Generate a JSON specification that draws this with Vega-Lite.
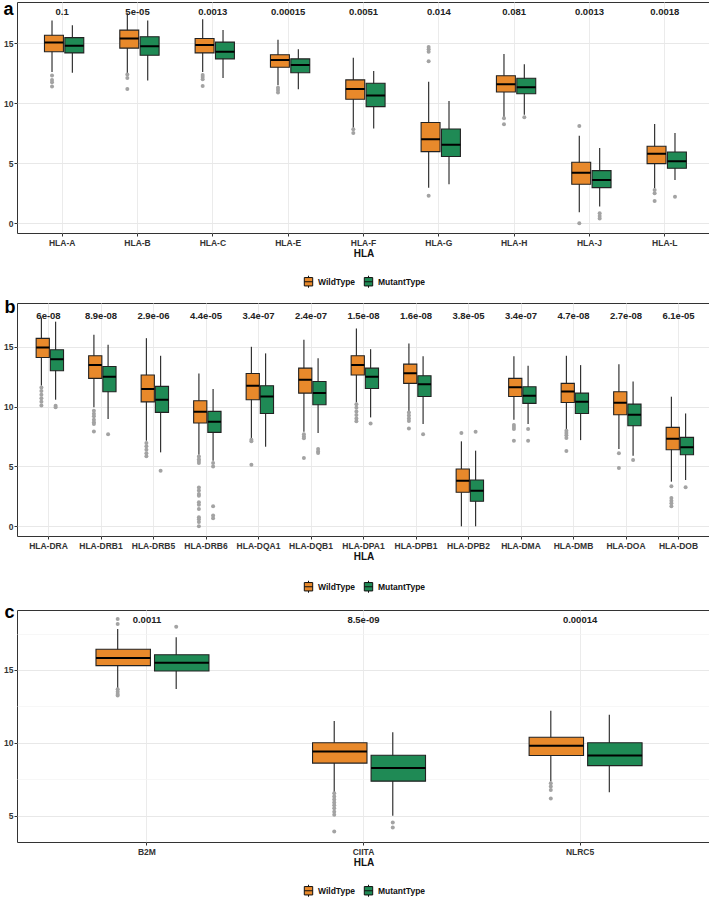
{
  "$schema": "https://vega.github.io/schema/vega-lite/v6.json",
  "padding": {"left": 2, "top": 0, "right": 0, "bottom": 0},
  "autosize": {"type": "pad"},
  "config": {
    "view": {"stroke": "#333333", "strokeWidth": 1},
    "font": "Liberation Sans",
    "concat": {"spacing": 6},
    "axis": {
      "labelFont": "Liberation Sans", "labelFontWeight": "bold", "labelFontSize": 8.5, "labelColor": "#333333",
      "tickColor": "#333333", "tickSize": 3, "domain": false, "labelPadding": 2,
      "titleFont": "Liberation Sans", "titleFontWeight": "bold", "titleFontSize": 10, "titleColor": "#111111"
    },
    "axisY": {"minExtent": 0, "labelPadding": 1},
    "legend": {
      "orient": "bottom", "direction": "horizontal", "offset": 16,
      "layout": {"bottom": {"anchor": "middle"}},
      "labelFont": "Liberation Sans", "labelFontWeight": "bold", "labelFontSize": 8.5, "labelColor": "#111111",
      "symbolType": "M-0.7,-0.7H0.7V0.7H-0.7Z M-0.7,0H0.7 M0,-0.7V-1 M0,0.7V1",
      "symbolSize": 144, "symbolStrokeColor": "#111111", "symbolStrokeWidth": 1, "symbolOpacity": 1,
      "labelOffset": 3, "columnPadding": 6
    }
  },
  "datasets": {
    "box_a": [
      {"gene": "HLA-A", "group": "WildType", "lower": 12.6, "q1": 14.3, "median": 15.06, "q3": 15.67, "upper": 16.9},
      {"gene": "HLA-A", "group": "MutantType", "lower": 12.55, "q1": 14.2, "median": 14.8, "q3": 15.47, "upper": 16.5},
      {"gene": "HLA-B", "group": "WildType", "lower": 12.5, "q1": 14.6, "median": 15.4, "q3": 16.1, "upper": 17.5},
      {"gene": "HLA-B", "group": "MutantType", "lower": 11.9, "q1": 14.0, "median": 14.75, "q3": 15.55, "upper": 16.9},
      {"gene": "HLA-C", "group": "WildType", "lower": 12.6, "q1": 14.2, "median": 14.86, "q3": 15.4, "upper": 17.0},
      {"gene": "HLA-C", "group": "MutantType", "lower": 12.1, "q1": 13.7, "median": 14.3, "q3": 15.1, "upper": 16.1},
      {"gene": "HLA-E", "group": "WildType", "lower": 11.5, "q1": 13.0, "median": 13.6, "q3": 14.05, "upper": 15.3},
      {"gene": "HLA-E", "group": "MutantType", "lower": 11.17, "q1": 12.55, "median": 13.2, "q3": 13.7, "upper": 14.5},
      {"gene": "HLA-F", "group": "WildType", "lower": 7.97, "q1": 10.33, "median": 11.2, "q3": 11.95, "upper": 13.8},
      {"gene": "HLA-F", "group": "MutantType", "lower": 7.9, "q1": 9.72, "median": 10.64, "q3": 11.67, "upper": 12.7},
      {"gene": "HLA-G", "group": "WildType", "lower": 2.97, "q1": 5.97, "median": 7.0, "q3": 8.4, "upper": 11.8},
      {"gene": "HLA-G", "group": "MutantType", "lower": 3.25, "q1": 5.56, "median": 6.55, "q3": 7.86, "upper": 10.2},
      {"gene": "HLA-H", "group": "WildType", "lower": 8.83, "q1": 10.94, "median": 11.58, "q3": 12.3, "upper": 14.1},
      {"gene": "HLA-H", "group": "MutantType", "lower": 9.05, "q1": 10.8, "median": 11.33, "q3": 12.08, "upper": 13.25},
      {"gene": "HLA-J", "group": "WildType", "lower": 0.92, "q1": 3.25, "median": 4.22, "q3": 5.08, "upper": 7.3},
      {"gene": "HLA-J", "group": "MutantType", "lower": 1.39, "q1": 2.97, "median": 3.6, "q3": 4.39, "upper": 6.28},
      {"gene": "HLA-L", "group": "WildType", "lower": 2.92, "q1": 4.97, "median": 5.8, "q3": 6.42, "upper": 8.28},
      {"gene": "HLA-L", "group": "MutantType", "lower": 3.6, "q1": 4.58, "median": 5.17, "q3": 5.94, "upper": 7.53}
    ],
    "out_a": [
      {"gene": "HLA-A", "group": "WildType", "value": 12.31}, {"gene": "HLA-A", "group": "WildType", "value": 11.94},
      {"gene": "HLA-A", "group": "WildType", "value": 11.75}, {"gene": "HLA-A", "group": "WildType", "value": 11.39},
      {"gene": "HLA-B", "group": "WildType", "value": 12.4}, {"gene": "HLA-B", "group": "WildType", "value": 12.1},
      {"gene": "HLA-B", "group": "WildType", "value": 11.2},
      {"gene": "HLA-C", "group": "WildType", "value": 12.35}, {"gene": "HLA-C", "group": "WildType", "value": 12.2},
      {"gene": "HLA-C", "group": "WildType", "value": 12.0}, {"gene": "HLA-C", "group": "WildType", "value": 11.45},
      {"gene": "HLA-E", "group": "WildType", "value": 11.3}, {"gene": "HLA-E", "group": "WildType", "value": 11.1},
      {"gene": "HLA-E", "group": "WildType", "value": 10.9},
      {"gene": "HLA-F", "group": "WildType", "value": 7.83}, {"gene": "HLA-F", "group": "WildType", "value": 7.53},
      {"gene": "HLA-G", "group": "WildType", "value": 14.7}, {"gene": "HLA-G", "group": "WildType", "value": 14.5},
      {"gene": "HLA-G", "group": "WildType", "value": 14.3}, {"gene": "HLA-G", "group": "WildType", "value": 13.5},
      {"gene": "HLA-G", "group": "WildType", "value": 2.3},
      {"gene": "HLA-H", "group": "WildType", "value": 8.75}, {"gene": "HLA-H", "group": "WildType", "value": 8.25},
      {"gene": "HLA-H", "group": "MutantType", "value": 8.83},
      {"gene": "HLA-J", "group": "WildType", "value": 8.1}, {"gene": "HLA-J", "group": "WildType", "value": 0.0},
      {"gene": "HLA-J", "group": "MutantType", "value": 0.83}, {"gene": "HLA-J", "group": "MutantType", "value": 0.61},
      {"gene": "HLA-J", "group": "MutantType", "value": 0.39},
      {"gene": "HLA-L", "group": "WildType", "value": 2.78}, {"gene": "HLA-L", "group": "WildType", "value": 2.5},
      {"gene": "HLA-L", "group": "WildType", "value": 1.86},
      {"gene": "HLA-L", "group": "MutantType", "value": 2.22}
    ],
    "p_a": [
      {"gene": "HLA-A", "p": "0.1"}, {"gene": "HLA-B", "p": "5e-05"}, {"gene": "HLA-C", "p": "0.0013"},
      {"gene": "HLA-E", "p": "0.00015"}, {"gene": "HLA-F", "p": "0.0051"}, {"gene": "HLA-G", "p": "0.014"},
      {"gene": "HLA-H", "p": "0.081"}, {"gene": "HLA-J", "p": "0.0013"}, {"gene": "HLA-L", "p": "0.0018"}
    ],
    "box_b": [
      {"gene": "HLA-DRA", "group": "WildType", "lower": 11.75, "q1": 14.1, "median": 14.95, "q3": 15.7, "upper": 17.45},
      {"gene": "HLA-DRA", "group": "MutantType", "lower": 10.58, "q1": 13.0, "median": 13.97, "q3": 14.75, "upper": 17.1},
      {"gene": "HLA-DRB1", "group": "WildType", "lower": 9.94, "q1": 12.36, "median": 13.47, "q3": 14.25, "upper": 16.0},
      {"gene": "HLA-DRB1", "group": "MutantType", "lower": 8.96, "q1": 11.24, "median": 12.5, "q3": 13.36, "upper": 15.17},
      {"gene": "HLA-DRB5", "group": "WildType", "lower": 7.15, "q1": 10.4, "median": 11.47, "q3": 12.64, "upper": 15.72},
      {"gene": "HLA-DRB5", "group": "MutantType", "lower": 6.18, "q1": 9.52, "median": 10.58, "q3": 11.69, "upper": 14.25},
      {"gene": "HLA-DRB6", "group": "WildType", "lower": 5.98, "q1": 8.63, "median": 9.57, "q3": 10.49, "upper": 12.77},
      {"gene": "HLA-DRB6", "group": "MutantType", "lower": 5.48, "q1": 7.85, "median": 8.74, "q3": 9.6, "upper": 11.47},
      {"gene": "HLA-DQA1", "group": "WildType", "lower": 7.3, "q1": 10.58, "median": 11.75, "q3": 12.77, "upper": 15.0},
      {"gene": "HLA-DQA1", "group": "MutantType", "lower": 6.65, "q1": 9.43, "median": 10.85, "q3": 11.75, "upper": 14.45},
      {"gene": "HLA-DQB1", "group": "WildType", "lower": 7.9, "q1": 11.13, "median": 12.25, "q3": 13.22, "upper": 15.58},
      {"gene": "HLA-DQB1", "group": "MutantType", "lower": 7.8, "q1": 10.16, "median": 11.13, "q3": 12.1, "upper": 14.05},
      {"gene": "HLA-DPA1", "group": "WildType", "lower": 10.35, "q1": 12.64, "median": 13.47, "q3": 14.25, "upper": 16.53},
      {"gene": "HLA-DPA1", "group": "MutantType", "lower": 9.1, "q1": 11.52, "median": 12.5, "q3": 13.22, "upper": 14.8},
      {"gene": "HLA-DPB1", "group": "WildType", "lower": 9.6, "q1": 11.94, "median": 12.8, "q3": 13.55, "upper": 15.28},
      {"gene": "HLA-DPB1", "group": "MutantType", "lower": 8.54, "q1": 10.85, "median": 11.88, "q3": 12.58, "upper": 14.2},
      {"gene": "HLA-DPB2", "group": "WildType", "lower": 0.0, "q1": 2.84, "median": 3.81, "q3": 4.79, "upper": 7.1},
      {"gene": "HLA-DPB2", "group": "MutantType", "lower": 0.0, "q1": 2.09, "median": 2.98, "q3": 3.87, "upper": 6.32},
      {"gene": "HLA-DMA", "group": "WildType", "lower": 8.9, "q1": 10.85, "median": 11.63, "q3": 12.36, "upper": 14.2},
      {"gene": "HLA-DMA", "group": "MutantType", "lower": 8.54, "q1": 10.27, "median": 10.91, "q3": 11.66, "upper": 13.41},
      {"gene": "HLA-DMB", "group": "WildType", "lower": 8.13, "q1": 10.35, "median": 11.27, "q3": 11.94, "upper": 14.25},
      {"gene": "HLA-DMB", "group": "MutantType", "lower": 7.2, "q1": 9.43, "median": 10.41, "q3": 11.13, "upper": 13.47},
      {"gene": "HLA-DOA", "group": "WildType", "lower": 6.46, "q1": 9.32, "median": 10.33, "q3": 11.24, "upper": 13.55},
      {"gene": "HLA-DOA", "group": "MutantType", "lower": 5.9, "q1": 8.4, "median": 9.32, "q3": 10.21, "upper": 12.1},
      {"gene": "HLA-DOB", "group": "WildType", "lower": 3.73, "q1": 6.4, "median": 7.32, "q3": 8.27, "upper": 10.83},
      {"gene": "HLA-DOB", "group": "MutantType", "lower": 3.87, "q1": 5.98, "median": 6.6, "q3": 7.43, "upper": 9.43}
    ],
    "out_b": [
      {"gene": "HLA-DRA", "group": "WildType", "value": 11.6}, {"gene": "HLA-DRA", "group": "WildType", "value": 11.3},
      {"gene": "HLA-DRA", "group": "WildType", "value": 11.0}, {"gene": "HLA-DRA", "group": "WildType", "value": 10.7},
      {"gene": "HLA-DRA", "group": "WildType", "value": 10.4}, {"gene": "HLA-DRA", "group": "WildType", "value": 10.1},
      {"gene": "HLA-DRA", "group": "MutantType", "value": 10.07}, {"gene": "HLA-DRA", "group": "MutantType", "value": 9.94},
      {"gene": "HLA-DRB1", "group": "WildType", "value": 9.66}, {"gene": "HLA-DRB1", "group": "WildType", "value": 9.4},
      {"gene": "HLA-DRB1", "group": "WildType", "value": 9.2}, {"gene": "HLA-DRB1", "group": "WildType", "value": 8.9},
      {"gene": "HLA-DRB1", "group": "WildType", "value": 8.7}, {"gene": "HLA-DRB1", "group": "WildType", "value": 8.54},
      {"gene": "HLA-DRB1", "group": "WildType", "value": 7.93},
      {"gene": "HLA-DRB1", "group": "MutantType", "value": 7.7},
      {"gene": "HLA-DRB5", "group": "WildType", "value": 6.96}, {"gene": "HLA-DRB5", "group": "WildType", "value": 6.7},
      {"gene": "HLA-DRB5", "group": "WildType", "value": 6.4}, {"gene": "HLA-DRB5", "group": "WildType", "value": 6.1},
      {"gene": "HLA-DRB5", "group": "WildType", "value": 5.85},
      {"gene": "HLA-DRB5", "group": "MutantType", "value": 4.65},
      {"gene": "HLA-DRB6", "group": "WildType", "value": 5.84}, {"gene": "HLA-DRB6", "group": "WildType", "value": 5.6},
      {"gene": "HLA-DRB6", "group": "WildType", "value": 5.45}, {"gene": "HLA-DRB6", "group": "WildType", "value": 5.29},
      {"gene": "HLA-DRB6", "group": "WildType", "value": 3.25}, {"gene": "HLA-DRB6", "group": "WildType", "value": 3.0},
      {"gene": "HLA-DRB6", "group": "WildType", "value": 2.7}, {"gene": "HLA-DRB6", "group": "WildType", "value": 2.56},
      {"gene": "HLA-DRB6", "group": "WildType", "value": 2.0}, {"gene": "HLA-DRB6", "group": "WildType", "value": 1.8},
      {"gene": "HLA-DRB6", "group": "WildType", "value": 1.45}, {"gene": "HLA-DRB6", "group": "WildType", "value": 0.75},
      {"gene": "HLA-DRB6", "group": "WildType", "value": 0.6}, {"gene": "HLA-DRB6", "group": "WildType", "value": 0.35},
      {"gene": "HLA-DRB6", "group": "WildType", "value": 0.0},
      {"gene": "HLA-DRB6", "group": "MutantType", "value": 5.29}, {"gene": "HLA-DRB6", "group": "MutantType", "value": 5.0},
      {"gene": "HLA-DRB6", "group": "MutantType", "value": 1.67}, {"gene": "HLA-DRB6", "group": "MutantType", "value": 0.9},
      {"gene": "HLA-DRB6", "group": "MutantType", "value": 0.67},
      {"gene": "HLA-DQA1", "group": "WildType", "value": 7.24}, {"gene": "HLA-DQA1", "group": "WildType", "value": 7.1},
      {"gene": "HLA-DQA1", "group": "WildType", "value": 5.15},
      {"gene": "HLA-DQB1", "group": "WildType", "value": 7.7}, {"gene": "HLA-DQB1", "group": "WildType", "value": 7.5},
      {"gene": "HLA-DQB1", "group": "WildType", "value": 7.35}, {"gene": "HLA-DQB1", "group": "WildType", "value": 5.7},
      {"gene": "HLA-DQB1", "group": "MutantType", "value": 6.46}, {"gene": "HLA-DQB1", "group": "MutantType", "value": 6.26},
      {"gene": "HLA-DQB1", "group": "MutantType", "value": 6.12},
      {"gene": "HLA-DPA1", "group": "WildType", "value": 10.2}, {"gene": "HLA-DPA1", "group": "WildType", "value": 9.9},
      {"gene": "HLA-DPA1", "group": "WildType", "value": 9.6}, {"gene": "HLA-DPA1", "group": "WildType", "value": 9.3},
      {"gene": "HLA-DPA1", "group": "WildType", "value": 9.0}, {"gene": "HLA-DPA1", "group": "WildType", "value": 8.77},
      {"gene": "HLA-DPA1", "group": "MutantType", "value": 8.6},
      {"gene": "HLA-DPB1", "group": "WildType", "value": 9.52}, {"gene": "HLA-DPB1", "group": "WildType", "value": 9.25},
      {"gene": "HLA-DPB1", "group": "WildType", "value": 9.0}, {"gene": "HLA-DPB1", "group": "WildType", "value": 8.8},
      {"gene": "HLA-DPB1", "group": "WildType", "value": 8.18},
      {"gene": "HLA-DPB1", "group": "MutantType", "value": 7.7},
      {"gene": "HLA-DPB2", "group": "WildType", "value": 7.8},
      {"gene": "HLA-DPB2", "group": "MutantType", "value": 7.9},
      {"gene": "HLA-DMA", "group": "WildType", "value": 8.46}, {"gene": "HLA-DMA", "group": "WildType", "value": 8.3},
      {"gene": "HLA-DMA", "group": "WildType", "value": 8.13}, {"gene": "HLA-DMA", "group": "WildType", "value": 7.15},
      {"gene": "HLA-DMA", "group": "MutantType", "value": 8.13}, {"gene": "HLA-DMA", "group": "MutantType", "value": 7.15},
      {"gene": "HLA-DMB", "group": "WildType", "value": 7.99}, {"gene": "HLA-DMB", "group": "WildType", "value": 7.8},
      {"gene": "HLA-DMB", "group": "WildType", "value": 7.6}, {"gene": "HLA-DMB", "group": "WildType", "value": 7.38},
      {"gene": "HLA-DMB", "group": "WildType", "value": 6.29},
      {"gene": "HLA-DOA", "group": "WildType", "value": 6.1}, {"gene": "HLA-DOA", "group": "WildType", "value": 4.87},
      {"gene": "HLA-DOA", "group": "MutantType", "value": 5.54},
      {"gene": "HLA-DOB", "group": "WildType", "value": 3.34}, {"gene": "HLA-DOB", "group": "WildType", "value": 2.37},
      {"gene": "HLA-DOB", "group": "WildType", "value": 2.14}, {"gene": "HLA-DOB", "group": "WildType", "value": 1.92},
      {"gene": "HLA-DOB", "group": "WildType", "value": 1.67},
      {"gene": "HLA-DOB", "group": "MutantType", "value": 3.26}
    ],
    "p_b": [
      {"gene": "HLA-DRA", "p": "6e-08"}, {"gene": "HLA-DRB1", "p": "8.9e-08"}, {"gene": "HLA-DRB5", "p": "2.9e-06"},
      {"gene": "HLA-DRB6", "p": "4.4e-05"}, {"gene": "HLA-DQA1", "p": "3.4e-07"}, {"gene": "HLA-DQB1", "p": "2.4e-07"},
      {"gene": "HLA-DPA1", "p": "1.5e-08"}, {"gene": "HLA-DPB1", "p": "1.6e-08"}, {"gene": "HLA-DPB2", "p": "3.8e-05"},
      {"gene": "HLA-DMA", "p": "3.4e-07"}, {"gene": "HLA-DMB", "p": "4.7e-08"}, {"gene": "HLA-DOA", "p": "2.7e-08"},
      {"gene": "HLA-DOB", "p": "6.1e-05"}
    ],
    "box_c": [
      {"gene": "B2M", "group": "WildType", "lower": 13.74, "q1": 15.3, "median": 15.82, "q3": 16.42, "upper": 17.81},
      {"gene": "B2M", "group": "MutantType", "lower": 13.7, "q1": 14.93, "median": 15.5, "q3": 16.05, "upper": 17.24},
      {"gene": "CIITA", "group": "WildType", "lower": 6.6, "q1": 8.6, "median": 9.39, "q3": 10.0, "upper": 11.5},
      {"gene": "CIITA", "group": "MutantType", "lower": 4.98, "q1": 7.36, "median": 8.27, "q3": 9.14, "upper": 10.72},
      {"gene": "NLRC5", "group": "WildType", "lower": 7.33, "q1": 9.12, "median": 9.8, "q3": 10.38, "upper": 12.19},
      {"gene": "NLRC5", "group": "MutantType", "lower": 6.6, "q1": 8.43, "median": 9.12, "q3": 10.0, "upper": 11.93}
    ],
    "out_c": [
      {"gene": "B2M", "group": "WildType", "value": 18.5}, {"gene": "B2M", "group": "WildType", "value": 18.16},
      {"gene": "B2M", "group": "WildType", "value": 13.67}, {"gene": "B2M", "group": "WildType", "value": 13.5},
      {"gene": "B2M", "group": "WildType", "value": 13.35}, {"gene": "B2M", "group": "WildType", "value": 13.24},
      {"gene": "B2M", "group": "MutantType", "value": 17.97},
      {"gene": "CIITA", "group": "WildType", "value": 6.53}, {"gene": "CIITA", "group": "WildType", "value": 6.3},
      {"gene": "CIITA", "group": "WildType", "value": 6.1}, {"gene": "CIITA", "group": "WildType", "value": 5.9},
      {"gene": "CIITA", "group": "WildType", "value": 5.7}, {"gene": "CIITA", "group": "WildType", "value": 5.5},
      {"gene": "CIITA", "group": "WildType", "value": 5.25}, {"gene": "CIITA", "group": "WildType", "value": 5.05},
      {"gene": "CIITA", "group": "WildType", "value": 3.9},
      {"gene": "CIITA", "group": "MutantType", "value": 4.52}, {"gene": "CIITA", "group": "MutantType", "value": 4.18},
      {"gene": "NLRC5", "group": "WildType", "value": 7.22}, {"gene": "NLRC5", "group": "WildType", "value": 6.99},
      {"gene": "NLRC5", "group": "WildType", "value": 6.76}, {"gene": "NLRC5", "group": "WildType", "value": 6.17}
    ],
    "p_c": [
      {"gene": "B2M", "p": "0.0011"}, {"gene": "CIITA", "p": "8.5e-09"}, {"gene": "NLRC5", "p": "0.00014"}
    ]
  },
  "vconcat": [
    {
      "width": 693, "height": 231,
      "encoding": {
        "x": {"field": "gene", "type": "nominal", "title": "HLA", "sort": ["HLA-A","HLA-B","HLA-C","HLA-E","HLA-F","HLA-G","HLA-H","HLA-J","HLA-L"],
              "scale": {"paddingInner": 0, "paddingOuter": 0.1},
              "axis": {"labelAngle": 0, "grid": true, "gridColor": "#ebebeb", "bandPosition": 0.5, "titlePadding": 2}}
      },
      "layer": [
        {
          "data": {"name": "box_a"},
          "mark": {"type": "rule", "color": "#333333", "strokeWidth": 1.2},
          "encoding": {
            "xOffset": {"field": "group", "type": "nominal", "sort": ["WildType","MutantType"], "scale": {"paddingInner": 0, "paddingOuter": 0.85}},
            "y": {"field": "lower", "type": "quantitative", "title": "a", "scale": {"domain": [-0.81, 18.44], "nice": false, "zero": false},
                  "axis": {"values": [0,2.5,5,7.5,10,12.5,15,17.5],
                           "labelExpr": "datum.value % 5 === 0 ? datum.label : ''",
                           "tickSize": {"condition": {"test": "datum.value % 5 === 0", "value": 3}, "value": 0},
                           "gridColor": {"condition": {"test": "datum.value % 5 === 0", "value": "#e8e8e8"}, "value": "#f3f3f3"},
                           "gridWidth": {"condition": {"test": "datum.value % 5 === 0", "value": 1}, "value": 0.7},
                           "titleAngle": 0, "titleAlign": "left", "titleBaseline": "alphabetic", "titleX": -14, "titleY": 12.5,
                           "titleFontSize": 18, "titleColor": "#000000"}},
            "y2": {"field": "upper"}
          }
        },
        {
          "data": {"name": "box_a"},
          "mark": {"type": "bar", "stroke": "#222222", "strokeWidth": 1.1, "width": {"band": 0.93}},
          "encoding": {
            "xOffset": {"field": "group", "type": "nominal", "sort": ["WildType","MutantType"]},
            "y": {"field": "q1", "type": "quantitative", "title": "a"},
            "y2": {"field": "q3"},
            "color": {"field": "group", "type": "nominal", "scale": {"domain": ["WildType","MutantType"], "range": ["#E8892B","#1F8A55"]},
                      "legend": {"title": null, "offset": 16}}
          }
        },
        {
          "data": {"name": "box_a"},
          "mark": {"type": "bar", "stroke": "#000000", "strokeWidth": 2, "fillOpacity": 0, "width": {"band": 0.93}},
          "encoding": {
            "xOffset": {"field": "group", "type": "nominal", "sort": ["WildType","MutantType"]},
            "y": {"field": "median", "type": "quantitative", "title": "a"},
            "y2": {"field": "median"}
          }
        },
        {
          "data": {"name": "out_a"},
          "mark": {"type": "circle", "color": "#a3a3a3", "size": 16, "opacity": 1},
          "encoding": {
            "xOffset": {"field": "group", "type": "nominal", "sort": ["WildType","MutantType"]},
            "y": {"field": "value", "type": "quantitative", "title": "a"}
          }
        },
        {
          "data": {"name": "p_a"},
          "mark": {"type": "text", "fontWeight": "bold", "fontSize": 9.5, "color": "#222222", "baseline": "middle"},
          "encoding": {
            "y": {"datum": 17.6, "type": "quantitative", "title": "a"},
            "text": {"field": "p"}
          }
        }
      ]
    },
    {
      "width": 693, "height": 233,
      "encoding": {
        "x": {"field": "gene", "type": "nominal", "title": "HLA", "sort": ["HLA-DRA","HLA-DRB1","HLA-DRB5","HLA-DRB6","HLA-DQA1","HLA-DQB1","HLA-DPA1","HLA-DPB1","HLA-DPB2","HLA-DMA","HLA-DMB","HLA-DOA","HLA-DOB"],
              "scale": {"paddingInner": 0, "paddingOuter": 0.1},
              "axis": {"labelAngle": 0, "grid": true, "gridColor": "#ebebeb", "bandPosition": 0.5, "titlePadding": 2}}
      },
      "layer": [
        {
          "data": {"name": "box_b"},
          "mark": {"type": "rule", "color": "#333333", "strokeWidth": 1.2},
          "encoding": {
            "xOffset": {"field": "group", "type": "nominal", "sort": ["WildType","MutantType"], "scale": {"paddingInner": 0, "paddingOuter": 0.85}},
            "y": {"field": "lower", "type": "quantitative", "title": "b", "scale": {"domain": [-0.81, 18.66], "nice": false, "zero": false},
                  "axis": {"values": [0,2.5,5,7.5,10,12.5,15,17.5],
                           "labelExpr": "datum.value % 5 === 0 ? datum.label : ''",
                           "tickSize": {"condition": {"test": "datum.value % 5 === 0", "value": 3}, "value": 0},
                           "gridColor": {"condition": {"test": "datum.value % 5 === 0", "value": "#e8e8e8"}, "value": "#f3f3f3"},
                           "gridWidth": {"condition": {"test": "datum.value % 5 === 0", "value": 1}, "value": 0.7},
                           "titleAngle": 0, "titleAlign": "left", "titleBaseline": "alphabetic", "titleX": -13, "titleY": 9,
                           "titleFontSize": 18, "titleColor": "#000000"}},
            "y2": {"field": "upper"}
          }
        },
        {
          "data": {"name": "box_b"},
          "mark": {"type": "bar", "stroke": "#222222", "strokeWidth": 1.1, "width": {"band": 0.93}},
          "encoding": {
            "xOffset": {"field": "group", "type": "nominal", "sort": ["WildType","MutantType"]},
            "y": {"field": "q1", "type": "quantitative", "title": "b"},
            "y2": {"field": "q3"},
            "color": {"field": "group", "type": "nominal", "scale": {"domain": ["WildType","MutantType"], "range": ["#E8892B","#1F8A55"]},
                      "legend": {"title": null, "offset": 18}}
          }
        },
        {
          "data": {"name": "box_b"},
          "mark": {"type": "bar", "stroke": "#000000", "strokeWidth": 2, "fillOpacity": 0, "width": {"band": 0.93}},
          "encoding": {
            "xOffset": {"field": "group", "type": "nominal", "sort": ["WildType","MutantType"]},
            "y": {"field": "median", "type": "quantitative", "title": "b"},
            "y2": {"field": "median"}
          }
        },
        {
          "data": {"name": "out_b"},
          "mark": {"type": "circle", "color": "#a3a3a3", "size": 16, "opacity": 1},
          "encoding": {
            "xOffset": {"field": "group", "type": "nominal", "sort": ["WildType","MutantType"]},
            "y": {"field": "value", "type": "quantitative", "title": "b"}
          }
        },
        {
          "data": {"name": "p_b"},
          "mark": {"type": "text", "fontWeight": "bold", "fontSize": 9.5, "color": "#222222", "baseline": "middle"},
          "encoding": {
            "y": {"datum": 17.6, "type": "quantitative", "title": "b"},
            "text": {"field": "p"}
          }
        }
      ]
    },
    {
      "width": 693, "height": 232,
      "encoding": {
        "x": {"field": "gene", "type": "nominal", "title": "HLA", "sort": ["B2M","CIITA","NLRC5"],
              "scale": {"paddingInner": 0, "paddingOuter": 0.1},
              "axis": {"labelAngle": 0, "grid": true, "gridColor": "#ebebeb", "bandPosition": 0.5, "titlePadding": 2}}
      },
      "layer": [
        {
          "data": {"name": "box_c"},
          "mark": {"type": "rule", "color": "#333333", "strokeWidth": 1.2},
          "encoding": {
            "xOffset": {"field": "group", "type": "nominal", "sort": ["WildType","MutantType"], "scale": {"paddingInner": 0, "paddingOuter": 0.85}},
            "y": {"field": "lower", "type": "quantitative", "title": "c", "scale": {"domain": [3.18, 19.12], "nice": false, "zero": false},
                  "axis": {"values": [5,7.5,10,12.5,15,17.5],
                           "labelExpr": "datum.value % 5 === 0 ? datum.label : ''",
                           "tickSize": {"condition": {"test": "datum.value % 5 === 0", "value": 3}, "value": 0},
                           "gridColor": {"condition": {"test": "datum.value % 5 === 0", "value": "#e8e8e8"}, "value": "#f3f3f3"},
                           "gridWidth": {"condition": {"test": "datum.value % 5 === 0", "value": 1}, "value": 0.7},
                           "titleAngle": 0, "titleAlign": "left", "titleBaseline": "alphabetic", "titleX": -13, "titleY": 7,
                           "titleFontSize": 18, "titleColor": "#000000"}},
            "y2": {"field": "upper"}
          }
        },
        {
          "data": {"name": "box_c"},
          "mark": {"type": "bar", "stroke": "#222222", "strokeWidth": 1.1, "width": {"band": 0.93}},
          "encoding": {
            "xOffset": {"field": "group", "type": "nominal", "sort": ["WildType","MutantType"]},
            "y": {"field": "q1", "type": "quantitative", "title": "c"},
            "y2": {"field": "q3"},
            "color": {"field": "group", "type": "nominal", "scale": {"domain": ["WildType","MutantType"], "range": ["#E8892B","#1F8A55"]},
                      "legend": {"title": null, "offset": 16}}
          }
        },
        {
          "data": {"name": "box_c"},
          "mark": {"type": "bar", "stroke": "#000000", "strokeWidth": 2, "fillOpacity": 0, "width": {"band": 0.93}},
          "encoding": {
            "xOffset": {"field": "group", "type": "nominal", "sort": ["WildType","MutantType"]},
            "y": {"field": "median", "type": "quantitative", "title": "c"},
            "y2": {"field": "median"}
          }
        },
        {
          "data": {"name": "out_c"},
          "mark": {"type": "circle", "color": "#a3a3a3", "size": 16, "opacity": 1},
          "encoding": {
            "xOffset": {"field": "group", "type": "nominal", "sort": ["WildType","MutantType"]},
            "y": {"field": "value", "type": "quantitative", "title": "c"}
          }
        },
        {
          "data": {"name": "p_c"},
          "mark": {"type": "text", "fontWeight": "bold", "fontSize": 9.5, "color": "#222222", "baseline": "middle"},
          "encoding": {
            "y": {"datum": 18.43, "type": "quantitative", "title": "c"},
            "text": {"field": "p"}
          }
        }
      ]
    }
  ],
  "resolve": {
    "scale": {"x": "independent", "y": "independent", "xOffset": "independent", "color": "independent"},
    "legend": {"color": "independent"}
  }
}
